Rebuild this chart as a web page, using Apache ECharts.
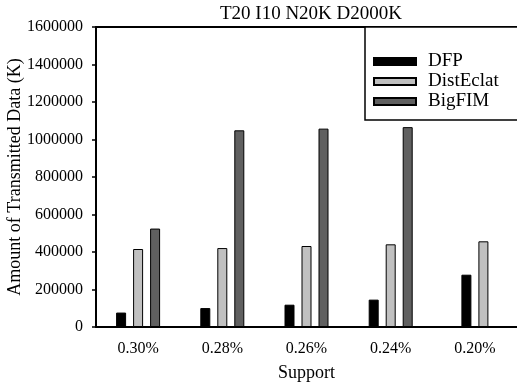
<!DOCTYPE html>
<html>
<head>
<meta charset="utf-8">
<script src="https://cdn.jsdelivr.net/npm/echarts@6/dist/echarts.min.js"></script>
<style>
  html, body { margin: 0; padding: 0; background: #fff; }
  #chart { width: 517px; height: 384px; }
</style>
</head>
<body>
<div id="chart"></div>
<script>
// Support thresholds on the x axis
const supports = ['0.30%', '0.28%', '0.26%', '0.24%', '0.20%'];
// Transmitted data (K) per algorithm; BigFIM has no result at 0.20%
const dfp = [77000, 101000, 119000, 146000, 279000];
const distEclat = [416000, 421000, 432000, 441000, 457000];
const bigFim = [525000, 1049000, 1058000, 1066000, null];
// Y axis ticks
const yTicks = [0, 200000, 400000, 600000, 800000, 1000000, 1200000, 1400000, 1600000];

const FONT = 'Liberation Serif';
const colors = { DFP: '#000000', DistEclat: '#c0c0c0', BigFIM: '#606060' };

// Categories with all three results are grouped on axis 0; categories where
// BigFIM is missing are drawn on axis 1 so the two remaining bars stay centred.
const full = supports.map((_, i) => bigFim[i] != null);
const pick = (arr, keep) => arr.map((v, i) => (keep(i) ? v : null));

function bar(name, data, axis) {
  return {
    name: name,
    type: 'bar',
    xAxisIndex: axis,
    data: data,
    barWidth: 10,
    barGap: '70%',
    itemStyle: { color: colors[name], borderColor: '#000', borderWidth: 1 }
  };
}

const chart = echarts.init(document.getElementById('chart'), null, { renderer: 'canvas' });
chart.setOption({
  animation: false,
  backgroundColor: '#fff',
  title: {
    text: 'T20 I10 N20K D2000K',
    left: 306, top: 0, textAlign: 'center',
    textStyle: { fontFamily: FONT, fontSize: 19, fontWeight: 'normal', color: '#000' }
  },
  legend: {
    orient: 'vertical',
    left: 365, top: 27,
    data: ['DFP', 'DistEclat', 'BigFIM'],
    itemWidth: 42, itemHeight: 7, itemGap: 1,
    icon: 'rect',
    padding: [25, 32, 9, 8],
    borderColor: '#000', borderWidth: 1.5,
    backgroundColor: '#fff',
    textStyle: { fontFamily: FONT, fontSize: 19, color: '#000', padding: [0, 0, 0, 7] }
  },
  grid: { left: 96, right: 0, top: 27, bottom: 57, outerBoundsMode: 'none', containLabel: false },
  xAxis: [
    {
      type: 'category', data: supports, position: 'bottom',
      name: 'Support', nameLocation: 'middle', nameGap: 37, nameMoveOverlap: false,
      nameTextStyle: { fontFamily: FONT, fontSize: 18, color: '#000' },
      axisLine: { lineStyle: { color: '#000', width: 2 } },
      axisTick: { alignWithLabel: true, length: 5, lineStyle: { color: '#000', width: 1.5 } },
      axisLabel: { fontFamily: FONT, fontSize: 16, color: '#000', margin: 14 }
    },
    {
      type: 'category', data: supports, position: 'top',
      axisLine: { lineStyle: { color: '#000', width: 2 } },
      axisTick: { show: false },
      axisLabel: { show: false }
    }
  ],
  yAxis: {
    type: 'value', min: yTicks[0], max: yTicks[yTicks.length - 1],
    interval: yTicks[1] - yTicks[0],
    name: 'Amount of Transmitted Data (K)', nameLocation: 'middle', nameGap: 72, nameMoveOverlap: false,
    nameTextStyle: { fontFamily: FONT, fontSize: 18, color: '#000' },
    axisLine: { show: true, lineStyle: { color: '#000', width: 2 } },
    axisTick: { show: true, length: 4, lineStyle: { color: '#000', width: 1.5 } },
    axisLabel: { fontFamily: FONT, fontSize: 16, color: '#000', margin: 13, formatter: v => String(v) },
    splitLine: { show: false }
  },
  series: [
    bar('DFP', pick(dfp, i => full[i]), 0),
    bar('DistEclat', pick(distEclat, i => full[i]), 0),
    bar('BigFIM', pick(bigFim, i => full[i]), 0),
    bar('DFP', pick(dfp, i => !full[i]), 1),
    bar('DistEclat', pick(distEclat, i => !full[i]), 1)
  ]
});
</script>
</body>
</html>
